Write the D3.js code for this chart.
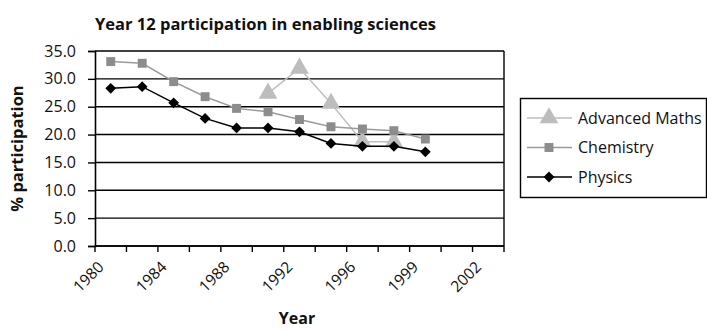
<!DOCTYPE html>
<html>
<head>
<meta charset="utf-8">
<script src="https://cdn.jsdelivr.net/npm/d3@7"></script>
<style>
    body { margin: 0; background: #fff; }
    svg { display: block; font-family: "Open Sans", sans-serif; }
</style>
</head>
<body>
<svg id="chart" width="707" height="331"></svg>
<script>
// Data
var years = ['1980', '1982', '1984', '1986', '1988', '1990', '1992', '1994', '1996', '1998', '1999', '2000', '2002'];
var yearLabels = ['1980', '1984', '1988', '1992', '1996', '1999', '2002'];
var yTicks = [0, 5, 10, 15, 20, 25, 30, 35];
var mathsValues = [null, null, null, null, null, 27.4, 31.9, 25.6, 18.7, 18.7, null, null, null];
var chemistryValues = [33.1, 32.8, 29.5, 26.8, 24.7, 24.1, 22.7, 21.4, 21.0, 20.7, 19.2, null, null];
var physicsValues = [28.3, 28.6, 25.7, 22.9, 21.2, 21.2, 20.5, 18.4, 17.9, 17.9, 16.9, null, null];
var seriesNames = ['Advanced Maths', 'Chemistry', 'Physics'];

var series = [
    { name: seriesNames[0], values: mathsValues, line: '#bdbdbd', fill: '#bdbdbd', symbol: d3.symbolTriangle, size: 150, rot: 0 },
    { name: seriesNames[1], values: chemistryValues, line: '#9a9a9a', fill: '#8c8c8c', symbol: d3.symbolSquare, size: 80, rot: 0 },
    { name: seriesNames[2], values: physicsValues, line: '#000', fill: '#000', symbol: d3.symbolSquare, size: 58, rot: 45 }
];

var plot = { left: 95, right: 504, top: 51, bottom: 246 };
var svg = d3.select('#chart');

var x = d3.scaleBand().domain(years).range([plot.left, plot.right]).padding(0);
var y = d3.scaleLinear().domain([0, 35]).range([plot.bottom, plot.top]);
var cx = function (i) { return x(years[i]) + x.bandwidth() / 2; };

// Title
svg.append('text')
    .attr('x', plot.left)
    .attr('y', 30)
    .attr('font-size', 16.5)
    .attr('font-weight', 'bold')
    .attr('fill', '#111')
    .text('Year 12 participation in enabling sciences');

// Gridlines
svg.append('g')
    .selectAll('line')
    .data(yTicks)
    .enter()
    .append('line')
    .attr('x1', plot.left)
    .attr('x2', plot.right)
    .attr('y1', function (d) { return y(d); })
    .attr('y2', function (d) { return y(d); })
    .attr('stroke', '#000')
    .attr('stroke-width', 1.4);

// Right border
svg.append('line')
    .attr('x1', plot.right).attr('x2', plot.right)
    .attr('y1', plot.top).attr('y2', plot.bottom)
    .attr('stroke', '#000').attr('stroke-width', 1.4);

// Y axis
var yAxis = svg.append('g')
    .attr('transform', 'translate(' + plot.left + ',0)')
    .call(d3.axisLeft(y).tickValues(yTicks).tickFormat(d3.format('.1f')).tickSize(7).tickPadding(12));
yAxis.select('.domain').attr('stroke', '#000').attr('stroke-width', 1.6);
yAxis.selectAll('.tick line').attr('stroke', '#000').attr('stroke-width', 1.4);
yAxis.selectAll('.tick text')
    .attr('font-family', '"Open Sans", sans-serif')
    .attr('font-size', 16)
    .attr('fill', '#111');

// X axis: ticks between categories
var xEdges = years.map(function (d) { return x(d); }).concat([plot.right]);
svg.append('line')
    .attr('x1', plot.left).attr('x2', plot.right)
    .attr('y1', plot.bottom).attr('y2', plot.bottom)
    .attr('stroke', '#000').attr('stroke-width', 1.6);
svg.append('g')
    .selectAll('line')
    .data(xEdges)
    .enter()
    .append('line')
    .attr('x1', function (d) { return d; })
    .attr('x2', function (d) { return d; })
    .attr('y1', plot.bottom)
    .attr('y2', plot.bottom + 6)
    .attr('stroke', '#000')
    .attr('stroke-width', 1.4);

svg.append('g')
    .selectAll('text')
    .data(yearLabels)
    .enter()
    .append('text')
    .attr('transform', function (d) {
        return 'translate(' + (x(d) + x.bandwidth() / 2 - 6) + ',' + (plot.bottom + 22) + ') rotate(-45)';
    })
    .attr('text-anchor', 'end')
    .attr('font-size', 15.5)
    .attr('fill', '#111')
    .text(function (d) { return d; });

// Axis titles
svg.append('text')
    .attr('x', 297)
    .attr('y', 324)
    .attr('text-anchor', 'middle')
    .attr('font-size', 16)
    .attr('font-weight', 'bold')
    .attr('fill', '#111')
    .text('Year');
svg.append('text')
    .attr('transform', 'translate(23,' + ((plot.top + plot.bottom) / 2) + ') rotate(-90)')
    .attr('text-anchor', 'middle')
    .attr('font-size', 16.5)
    .attr('font-weight', 'bold')
    .attr('fill', '#111')
    .text('% participation');

// Series
var line = d3.line()
    .defined(function (d) { return d != null; })
    .x(function (d, i) { return cx(i); })
    .y(function (d) { return y(d); });

series.forEach(function (s) {
    var g = svg.append('g');
    g.append('path')
        .attr('d', line(s.values))
        .attr('fill', 'none')
        .attr('stroke', s.line)
        .attr('stroke-width', 1.5);
    var pts = s.values.map(function (v, i) { return { v: v, i: i }; })
        .filter(function (p) { return p.v != null; });
    g.selectAll('path.mark')
        .data(pts)
        .enter()
        .append('path')
        .attr('class', 'mark')
        .attr('d', d3.symbol().type(s.symbol).size(s.size))
        .attr('transform', function (p) {
            return 'translate(' + cx(p.i) + ',' + y(p.v) + ') rotate(' + s.rot + ')';
        })
        .attr('fill', s.fill);
});

// Legend
var legend = svg.append('g');
legend.append('rect')
    .attr('x', 520.5)
    .attr('y', 98.5)
    .attr('width', 186)
    .attr('height', 99)
    .attr('fill', '#fff')
    .attr('stroke', '#000')
    .attr('stroke-width', 1.4);
series.forEach(function (s, idx) {
    var ly = 118 + idx * 29.5;
    legend.append('line')
        .attr('x1', 527).attr('x2', 572)
        .attr('y1', ly).attr('y2', ly)
        .attr('stroke', s.line)
        .attr('stroke-width', 1.5);
    legend.append('path')
        .attr('d', d3.symbol().type(s.symbol).size(s.size))
        .attr('transform', 'translate(549,' + ly + ') rotate(' + s.rot + ')')
        .attr('fill', s.fill);
    legend.append('text')
        .attr('x', 578)
        .attr('y', ly)
        .attr('dy', '0.35em')
        .attr('font-size', 16)
        .attr('fill', '#111')
        .text(s.name);
});
</script>
</body>
</html>
